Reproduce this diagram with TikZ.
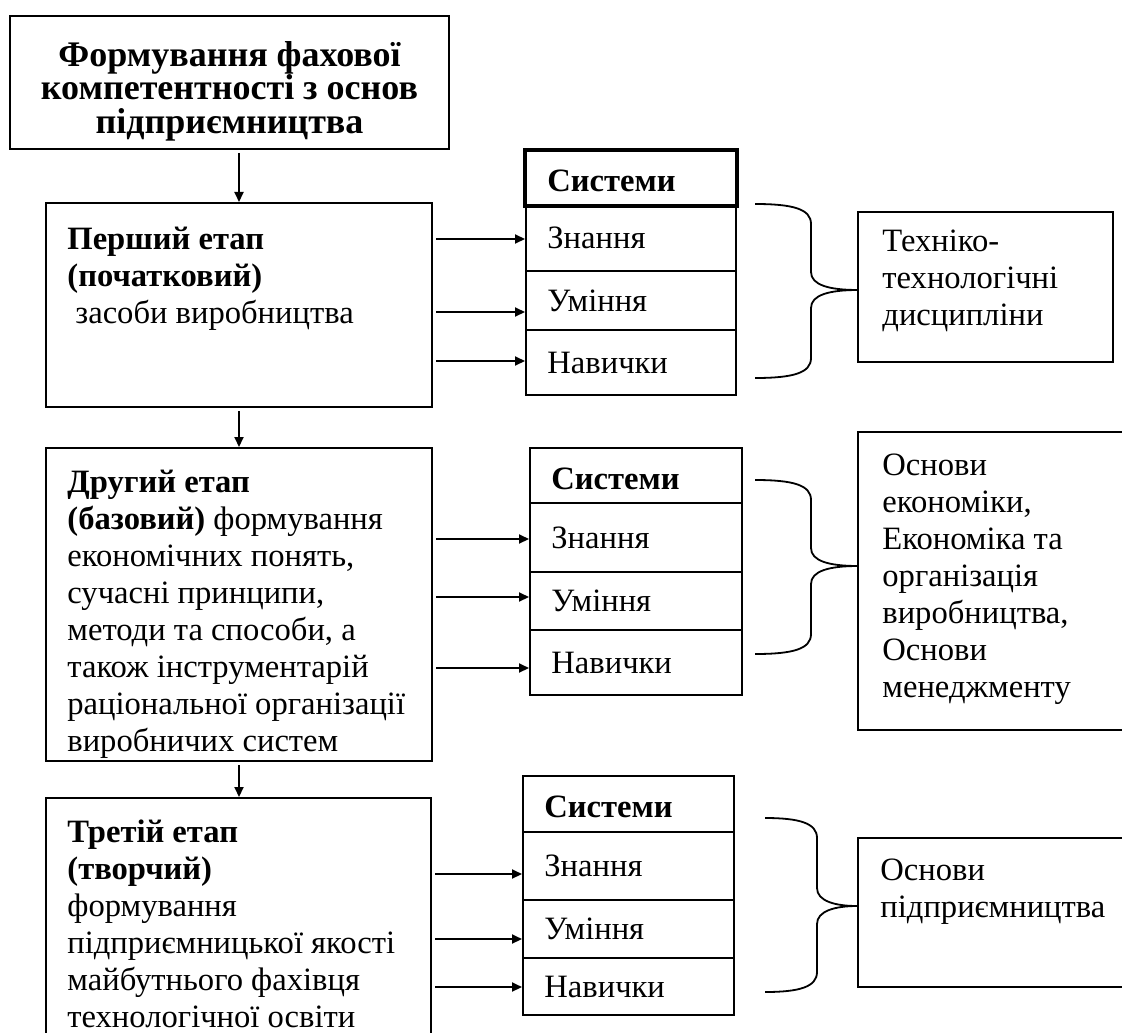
\documentclass[tikz,border=0pt]{standalone}
\usepackage{fontspec}
\setmainfont{Liberation Serif}
\usetikzlibrary{positioning,calc,arrows.meta,fit}
% curly brace from a systems table to its disciplines box
\newcommand{\sysbrace}[6]{%
  \draw[brc] (#1,#4) .. controls (#2-18,#4) and (#2,#4+5) .. (#2,#4+20)
    -- (#2,#5-18) .. controls (#2,#5-5) and (#2+18,#5) .. (#3,#5)
    .. controls (#2+18,#5) and (#2,#5+5) .. (#2,#5+18)
    -- (#2,#6-20) .. controls (#2,#6-5) and (#2-18,#6) .. (#1,#6);}

\begin{document}
\begin{tikzpicture}[x=0.5pt, y=-0.5pt,
                    every node/.style={font=\fontsize{16.3}{18.5}\selectfont},
                    box/.style={draw, line width=1pt, inner sep=0pt},
                    txt/.style={align=left, anchor=north west, inner sep=0pt},
                    cell/.style={anchor=west, inner sep=0pt},
                    arr/.style={-{Triangle[length=5pt,width=4.5pt]}, line width=1pt, shorten <=1.5pt},
                    brc/.style={line width=0.9pt}]
  \useasboundingbox (0,0) rectangle (1122,1032);
  \clip (0,0) rectangle (1122,1032);
  % title and the three stages
  \node[box, fit={(10,16) (449,149)}] (title) {};
  \node[align=center, inner sep=0pt, font=\fontsize{18}{16.8}\selectfont\bfseries] (titlet)
       at ([yshift=-4.3pt]title.center)
       {Формування фахової\\компетентності з основ\\підприємництва};
  \node[box, fit={(46,203) (432,407)}] (s1) {};
  \node[box, fit={(46,448) (432,761)}] (s2) {};
  \node[box, fit={(46,798) (431,1050)}] (s3) {};
  \node[txt] (s1t) at (67,227)
       {\textbf{Перший етап}\\\textbf{(початковий)}\\\hspace{4pt}засоби виробництва};
  \node[txt] (s2t) at (67,470)
       {\textbf{Другий етап}\\\textbf{(базовий)} формування\\економічних понять,\\сучасні принципи,\\методи та способи, а\\також інструментарій\\раціональної організації\\виробничих систем};
  \node[txt] (s3t) at (67,819)
       {\textbf{Третій етап}\\\textbf{(творчий)}\\формування\\підприємницької якості\\майбутнього фахівця\\технологічної освіти};
  % systems tables: header, knowledge, abilities, skills
  \foreach \n/\l/\r/\a/\b/\c/\d/\e in {1/526/736/151/205/271/330/395,
                                       2/530/742/448/503/572/630/695,
                                       3/523/734/776/832/900/958/1015}{
    \node[box, fit={(\l,\a) (\r,\b)}] (h\n) {};
    \node[box, fit={(\l,\b) (\r,\c)}] (k\n) {};
    \node[box, fit={(\l,\c) (\r,\d)}] (u\n) {};
    \node[box, fit={(\l,\d) (\r,\e)}] (n\n) {};
    \node[cell] (ht\n) at ([xshift=11pt,yshift=-1.5pt]h\n.west) {\textbf{Системи}};
    \node[cell] (kt\n) at ([xshift=11pt]k\n.west) {Знання};
    \node[cell] (ut\n) at ([xshift=11pt]u\n.west) {Уміння};
    \node[cell] (nt\n) at ([xshift=11pt]n\n.west) {Навички};
  }
  \draw[line width=1.6pt] (h1.north west) rectangle (h1.south east);
  % disciplines
  \node[box, fit={(858,212) (1113,362)}] (d1) {};
  \node[box, fit={(858,432) (1140,730)}] (d2) {};
  \node[box, fit={(858,838) (1140,987)}] (d3) {};
  \node[txt] (d1t) at (882,230) {Техніко-\\технологічні\\дисципліни};
  \node[txt] (d2t) at (882,454)
       {Основи\\економіки,\\Економіка та\\організація\\виробництва,\\Основи\\менеджменту};
  \node[txt] (d3t) at (880,859) {Основи\\підприємництва};
  % braces
  \sysbrace{755}{811}{858}{204}{290}{378}
  \sysbrace{755}{811}{858}{480}{566}{654}
  \sysbrace{765}{817}{857}{818}{906}{992}
  % arrows
  \coordinate (spine) at (239,0);
  \draw[arr] (title.south -| spine) -- (s1.north -| spine);
  \draw[arr] (s1.south -| spine) -- (s2.north -| spine);
  \draw[arr] (s2.south -| spine) -- (s3.north -| spine);
  \foreach \y/\t in {239/k1,312/u1,361/n1}
    \draw[arr] (s1.east |- 0,\y) -- (\t.west |- 0,\y);
  \foreach \y/\t in {539/k2,597/u2,668/n2}
    \draw[arr] (s2.east |- 0,\y) -- (\t.west |- 0,\y);
  \foreach \y/\t in {874/k3,939/u3,987/n3}
    \draw[arr] (s3.east |- 0,\y) -- (\t.west |- 0,\y);
\end{tikzpicture}
\end{document}
